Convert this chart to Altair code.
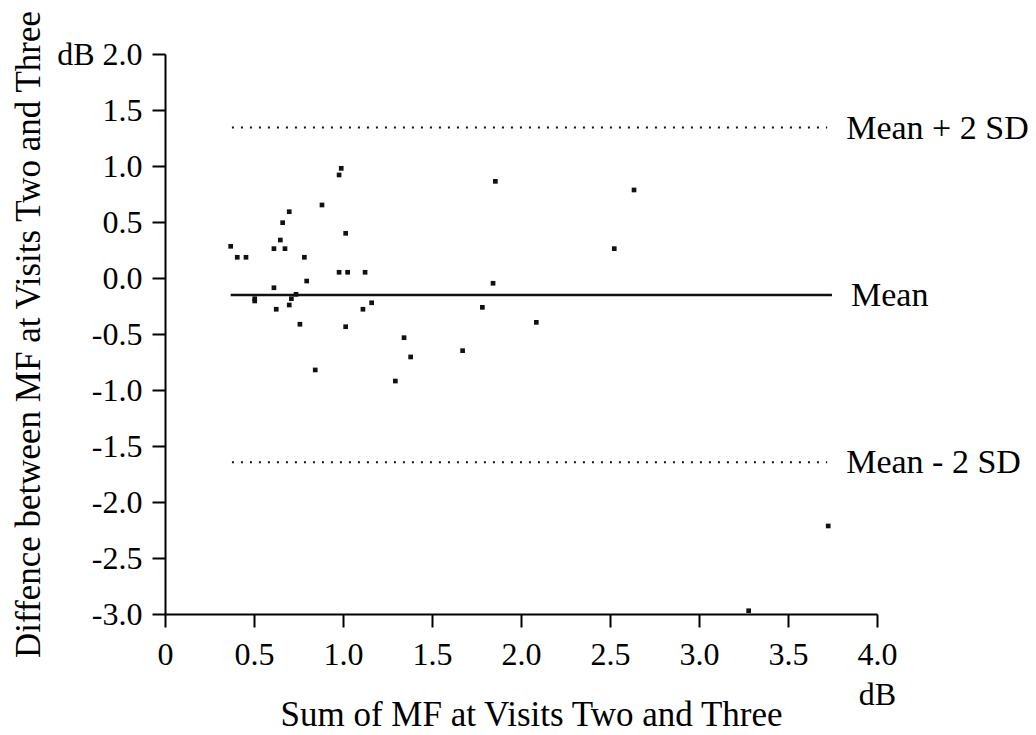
import altair as alt
import pandas as pd

# Scatter points (sum of MF, difference of MF)
sum_mf = [0.990, 0.978, 0.882, 0.698, 0.661, 1.015, 0.648, 0.369, 0.612, 0.674,
          0.406, 0.455, 0.783, 0.978, 1.026, 1.124, 0.796, 0.612, 0.504, 0.504,
          0.710, 0.736, 0.698, 0.625, 1.161, 1.112, 0.758, 1.015, 1.343, 1.380,
          0.844, 1.294, 1.856, 2.635, 2.524, 1.843, 1.783, 2.086, 1.672, 3.726,
          3.279]
diff_mf = [0.979, 0.920, 0.652, 0.592, 0.494, 0.399, 0.339, 0.283, 0.262, 0.262,
           0.185, 0.185, 0.185, 0.051, 0.051, 0.051, -0.027, -0.087, -0.185, -0.205,
           -0.185, -0.146, -0.241, -0.279, -0.221, -0.279, -0.413, -0.435, -0.533, -0.705,
           -0.821, -0.920, 0.863, 0.786, 0.262, -0.047, -0.262, -0.396, -0.649, -2.214,
           -2.971]

# Reference lines
ref_labels = ["Mean + 2 SD", "Mean", "Mean - 2 SD"]
ref_values = [1.343, -0.151, -1.646]
ref_start = [0.376, 0.369, 0.376]
ref_end = [3.72, 3.747, 3.72]
ref_dashed = [True, False, True]

FONT = "Liberation Serif"
FS = 32
FS_TITLE = 35
FS_NOTE = 34

pts = pd.DataFrame({"sum": sum_mf, "diff": diff_mf})
refs = pd.DataFrame({"label": ref_labels, "v": ref_values, "x0": ref_start,
                     "x1": ref_end, "dashed": ref_dashed})

xscale = alt.Scale(domain=[0, 4], nice=False, zero=False)
yscale = alt.Scale(domain=[-3, 2], nice=False, zero=False)

x_axis = alt.Axis(
    values=[0, 0.5, 1, 1.5, 2, 2.5, 3, 3.5, 4],
    labelExpr="datum.value == 0 ? '0' : (datum.value == 4 ? ['4.0', 'dB'] : format(datum.value, '.1f'))",
    labelLineHeight=40,
    tickSize=13, tickWidth=2, domainWidth=2, domainColor="black", tickColor="black",
    labelFont=FONT, labelFontSize=FS, labelColor="black", labelPadding=12,
    labelFlush=False, labelOverlap=False, grid=False,
    title="Sum of MF at Visits Two and Three",
    titleFont=FONT, titleFontSize=FS_TITLE, titleFontWeight="normal", titleColor="black",
    titleX=366, titleY=111, titleBaseline="alphabetic", titleAlign="center",
)
y_axis = alt.Axis(
    values=[-3, -2.5, -2, -1.5, -1, -0.5, 0, 0.5, 1, 1.5, 2],
    labelExpr="(datum.value == 2 ? 'dB ' : '') + (datum.value < 0 ? '-' : '') + format(abs(datum.value), '.1f')",
    tickSize=13, tickWidth=2, domainWidth=2, domainColor="black", tickColor="black",
    labelFont=FONT, labelFontSize=FS, labelColor="black", labelPadding=10,
    labelFlush=False, labelOverlap=False, grid=False,
    title="Diffence between MF at Visits Two and Three",
    titleFont=FONT, titleFontSize=FS_TITLE, titleFontWeight="normal", titleColor="black",
    titleAngle=-90, titleX=-137, titleY=280, titleBaseline="middle", titleAlign="center",
)

points = alt.Chart(pts).mark_square(size=22, color="#111111", opacity=1).encode(
    x=alt.X("sum:Q", scale=xscale, axis=x_axis),
    y=alt.Y("diff:Q", scale=yscale, axis=y_axis),
)

mean_line = alt.Chart(refs).transform_filter("!datum.dashed").mark_rule(
    color="#111111", strokeWidth=2.5
).encode(x="x0:Q", x2="x1:Q", y="v:Q")

sd_lines = alt.Chart(refs).transform_filter("datum.dashed").mark_rule(
    color="#111111", strokeWidth=2, strokeDash=[2, 7]
).encode(x="x0:Q", x2="x1:Q", y="v:Q")

labels = alt.Chart(refs).mark_text(
    align="left", baseline="middle", dx=19, dy=1, font=FONT, fontSize=FS_NOTE, color="black"
).encode(x="x1:Q", y="v:Q", text="label:N")

chart = alt.layer(sd_lines, mean_line, points, labels).properties(
    width=712, height=560,
    background="white",
    autosize=alt.AutoSizeParams(type="none"),
    padding={"left": 157, "top": 46, "right": 151, "bottom": 125},
).configure_view(stroke=None)

chart.save("out.html", embed_options={"renderer": "svg", "actions": False})
